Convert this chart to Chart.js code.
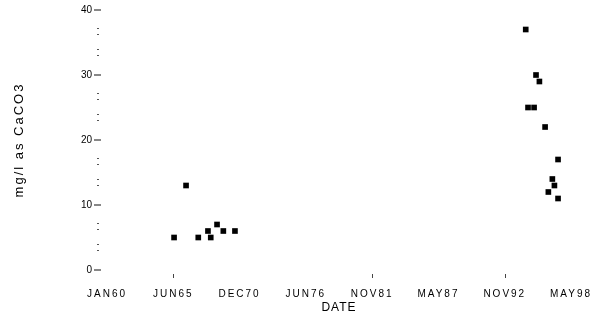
<!DOCTYPE html>
<html>
<head>
<meta charset="utf-8">
<script src="https://cdn.jsdelivr.net/npm/chart.js@4"></script>
<style>
  html, body { margin: 0; padding: 0; background: #fff; }
  #wrap { width: 593px; height: 320px; }
</style>
</head>
<body>
<div id="wrap"><canvas id="hardness"></canvas></div>
<script>
// sample dates (decimal years) and hardness, mg/l as CaCO3
const sampleYears = [1965.54, 1966.53, 1967.54, 1968.34, 1968.57, 1969.09, 1969.61, 1970.57,
                     1994.59, 1994.78, 1995.28, 1995.44, 1995.72, 1996.19, 1996.46, 1996.79,
                     1996.96, 1997.26, 1997.26];
const hardness = [5, 13, 5, 6, 5, 7, 6, 6,
                  37, 25, 25, 30, 29, 22, 12, 14,
                  13, 17, 11];

const xTickYears = [1960.0, 1965.48, 1970.95, 1976.43, 1981.90, 1987.38, 1992.86, 1998.33];
const xTickLabels = ["JAN60", "JUN65", "DEC70", "JUN76", "NOV81", "MAY87", "NOV92", "MAY98"];
const xTickMarks = ["JUN65", "NOV81", "NOV92"]; // only these show a tick mark
const yMajorTicks = [0, 10, 20, 30, 40];
const yMinorPerStep = 3;

const points = sampleYears.map((yr, i) => ({ x: yr, y: hardness[i] }));

let yTickValues = [];
yMajorTicks.forEach((v, i) => {
  yTickValues.push(v);
  if (i < yMajorTicks.length - 1) {
    const step = (yMajorTicks[i + 1] - v) / yMinorPerStep;
    for (let k = 1; k < yMinorPerStep; k++) yTickValues.push(v + k * step);
  }
});

// wrap a scale draw method so its text gets some letter spacing (old plotter look)
const spaced = (scale, method, spacing) => {
  if (scale["_spaced_" + method]) return;
  const orig = scale[method];
  scale[method] = function (...args) {
    const ctx = this.ctx;
    const prev = ctx.letterSpacing;
    ctx.letterSpacing = spacing;
    orig.apply(this, args);
    ctx.letterSpacing = prev || "0px";
  };
  scale["_spaced_" + method] = true;
};

const oldLook = {
  id: "oldLook",
  beforeDraw(chart) {
    spaced(chart.scales.x, "drawLabels", "2px");
    spaced(chart.scales.x, "drawTitle", "1px");
    spaced(chart.scales.y, "drawTitle", "2px");
  },
  // the little tick marks the original plot uses (no axis lines)
  afterDraw(chart) {
    const ctx = chart.ctx;
    const xs = chart.scales.x, ys = chart.scales.y;
    ctx.save();
    yTickValues.forEach(v => {
      const py = Math.round(ys.getPixelForValue(v));
      if (yMajorTicks.includes(v)) {
        ctx.fillStyle = "#111";
        ctx.fillRect(94, py - 0.5, 7, 1);
      } else {
        ctx.fillStyle = "#555";
        ctx.fillRect(97, py - 4, 2, 1);
        ctx.fillRect(97, py + 2, 2, 1);
      }
    });
    ctx.fillStyle = "#444";
    xTickLabels.forEach((lab, i) => {
      if (!xTickMarks.includes(lab)) return;
      const px = Math.round(xs.getPixelForValue(xTickYears[i]));
      ctx.fillRect(px, 274, 1, 4);
    });
    ctx.restore();
  }
};

new Chart(document.getElementById("hardness"), {
  type: "scatter",
  data: {
    datasets: [{
      data: points,
      pointStyle: "rect",
      radius: 4,
      hoverRadius: 4,
      backgroundColor: "#000",
      borderColor: "#000",
      borderWidth: 0
    }]
  },
  options: {
    responsive: true,
    maintainAspectRatio: false,
    animation: false,
    layout: { padding: 0 },
    plugins: { legend: { display: false }, tooltip: { enabled: false } },
    scales: {
      x: {
        type: "linear",
        min: xTickYears[0],
        max: xTickYears[xTickYears.length - 1],
        border: { display: false },
        grid: { display: false, drawTicks: false },
        afterBuildTicks: (scale) => {
          scale.ticks = xTickYears.map(v => ({ value: v }));
        },
        afterFit: (scale) => {
          scale.height = 50;
          scale.paddingLeft = 0;
          scale.paddingRight = 22;
        },
        ticks: {
          autoSkip: false,
          maxRotation: 0,
          padding: 18,
          color: "#000",
          font: { family: "Liberation Sans", size: 10 },
          callback: (v, i) => xTickLabels[i]
        },
        title: {
          display: true,
          text: "DATE",
          color: "#000",
          font: { family: "Liberation Sans", size: 12 },
          padding: { top: 0, bottom: 5 }
        }
      },
      y: {
        min: 0,
        max: 40,
        border: { display: false },
        grid: { display: false, drawTicks: false },
        afterBuildTicks: (scale) => {
          scale.ticks = yTickValues.map(v => ({ value: v }));
        },
        afterFit: (scale) => {
          scale.width = 107;
          scale.paddingTop = 10;
          scale.paddingBottom = 0;
        },
        ticks: {
          autoSkip: false,
          padding: 15,
          color: "#000",
          font: { family: "Liberation Sans", size: 10 },
          callback: (v) => yMajorTicks.includes(v) ? String(v) : ""
        },
        title: {
          display: true,
          text: "mg/l as CaCO3",
          color: "#000",
          font: { family: "Liberation Sans", size: 13 },
          padding: { top: 12, bottom: 0 }
        }
      }
    }
  },
  plugins: [oldLook]
});
</script>
</body>
</html>
